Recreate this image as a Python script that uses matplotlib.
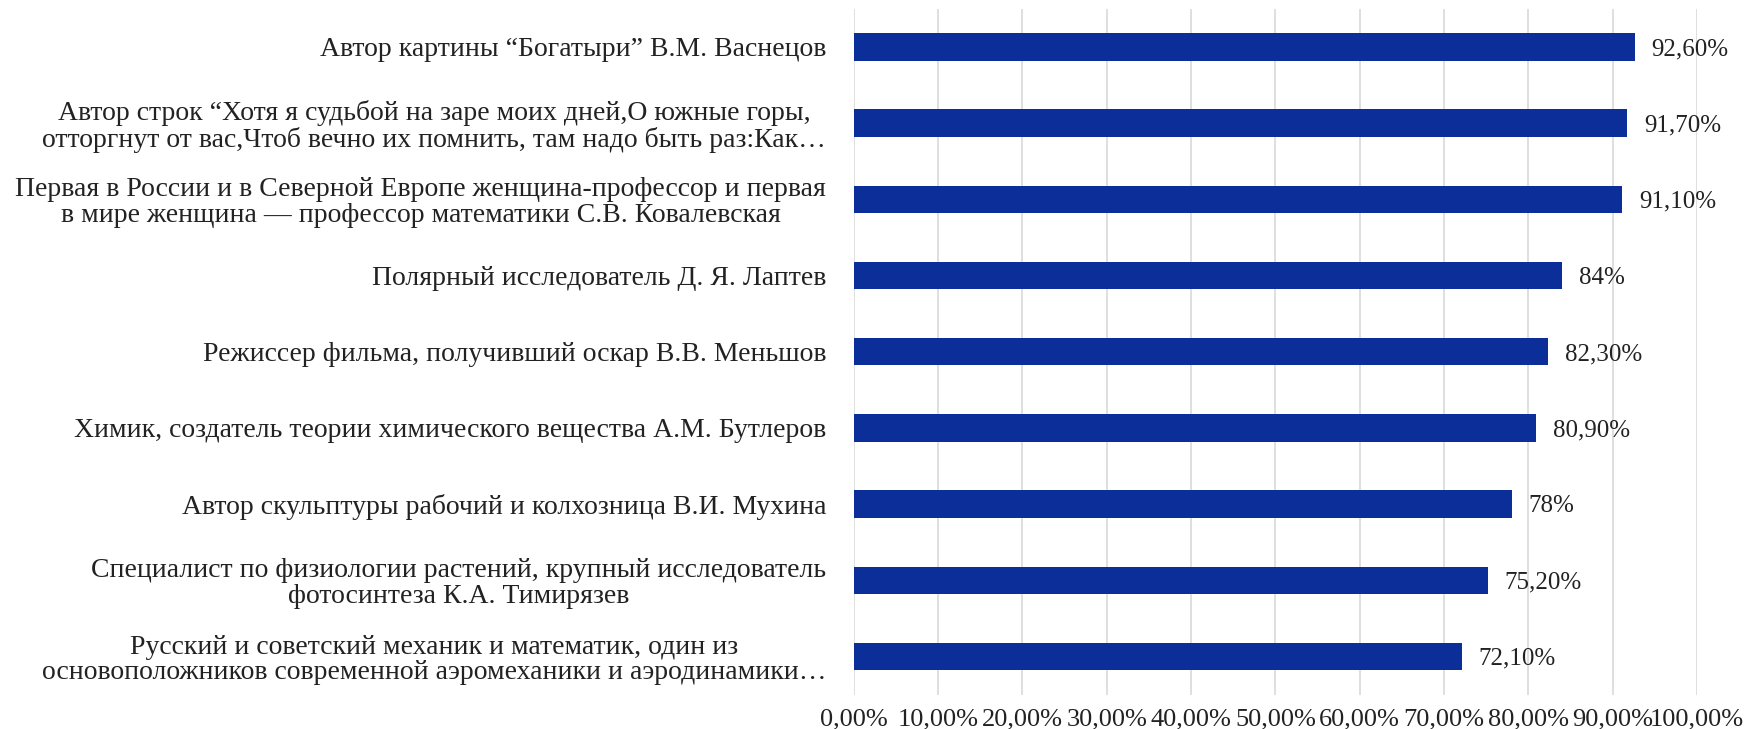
import matplotlib
matplotlib.use("Agg")
import matplotlib.pyplot as plt
from matplotlib.ticker import FuncFormatter

plt.rcParams['font.family'] = ['Liberation Serif', 'DejaVu Serif']

# categories listed top to bottom
categories = [
    "Автор картины “Богатыри” В.М. Васнецов",
    "Автор строк “Хотя я судьбой на заре моих дней,О южные горы,\nотторгнут от вас,Чтоб вечно их помнить, там надо быть раз:Как…",
    "Первая в России и в Северной Европе женщина-профессор и первая\nв мире женщина — профессор математики С.В. Ковалевская",
    "Полярный исследователь Д. Я. Лаптев",
    "Режиссер фильма, получивший оскар В.В. Меньшов",
    "Химик, создатель теории химического вещества А.М. Бутлеров",
    "Автор скульптуры рабочий и колхозница В.И. Мухина",
    "Специалист по физиологии растений, крупный исследователь\nфотосинтеза К.А. Тимирязев",
    "Русский и советский механик и математик, один из\nосновоположников современной аэромеханики и аэродинамики…",
]
values = [92.6, 91.7, 91.1, 84.0, 82.3, 80.9, 78.0, 75.2, 72.1]
x_ticks = [0, 10, 20, 30, 40, 50, 60, 70, 80, 90, 100]


def pct_label(v):
    if float(v).is_integer():
        return "{:.0f}%".format(v)
    return "{:.2f}%".format(v).replace(".", ",")


fig = plt.figure(figsize=(17.46, 7.29), dpi=100)
ax = fig.add_axes([0.489, 0.047, 0.483, 0.941])

pos = list(range(len(categories)))[::-1]
bars = ax.barh(pos, values, height=0.36, color='#0B2E99')

for p, v in zip(pos, values):
    ax.text(v + 2.0, p - 0.03, pct_label(v), va='center', ha='left', fontsize=18, color='#222222')

ax.set_xlim(0, 100)
ax.set_ylim(-0.5, len(categories) - 0.5)
ax.set_xticks(x_ticks)
ax.xaxis.set_major_formatter(FuncFormatter(lambda x, _: "{:.2f}%".format(x).replace(".", ",")))
ax.set_yticks(pos)
ax.set_yticklabels(categories, multialignment='center', linespacing=1.03)
ax.tick_params(axis='y', length=0, pad=20, labelsize=20, labelcolor='#222222')
ax.tick_params(axis='x', length=0, pad=10, labelsize=19, labelcolor='#222222')

ax.grid(axis='x', color='#d9d9d9', linewidth=1.2)
ax.set_axisbelow(True)
for s in ax.spines.values():
    s.set_visible(False)

plt.savefig("out.png", dpi=100)
